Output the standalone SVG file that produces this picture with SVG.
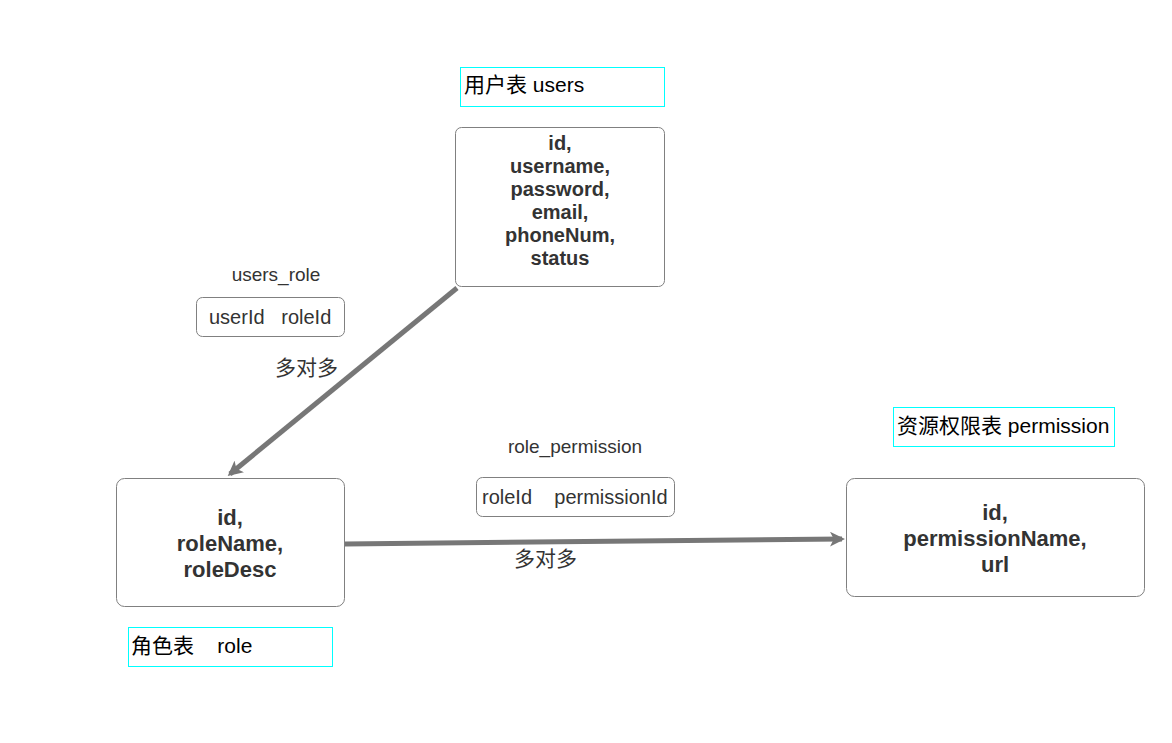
<svg xmlns="http://www.w3.org/2000/svg" width="1172" height="743" viewBox="0 0 1172 743">
  <style>
    .node { fill: #ffffff; stroke: #808080; stroke-width: 1; }
    .title { fill: #ffffff; stroke: #00ffff; stroke-width: 1; }
    .ttl { font-family: "Liberation Sans", "Noto Sans CJK SC", sans-serif; font-size: 21px; fill: #000000; }
    .fld { font-family: "Liberation Sans", "Noto Sans CJK SC", sans-serif; font-size: 20px; font-weight: bold; fill: #333333; text-anchor: middle; }
    .fld2 { font-family: "Liberation Sans", "Noto Sans CJK SC", sans-serif; font-size: 22px; font-weight: bold; fill: #333333; text-anchor: middle; }
    .lbl { font-family: "Liberation Sans", "Noto Sans CJK SC", sans-serif; font-size: 19px; fill: #333333; text-anchor: middle; }
    .rel { font-family: "Liberation Sans", "Noto Sans CJK SC", sans-serif; font-size: 20px; fill: #333333; }
    .many { font-family: "Liberation Sans", "Noto Sans CJK SC", sans-serif; font-size: 21px; fill: #333333; }
    .edge { stroke: #777777; stroke-width: 5; fill: none; }
  </style>
  <defs>
    <marker id="arrow" viewBox="0 0 10 10" refX="8" refY="5" markerWidth="3" markerHeight="3" orient="auto" markerUnits="strokeWidth">
      <path d="M0,0 L10,5 L0,10 L2.5,5 Z" fill="#777777"/>
    </marker>
  </defs>
  <rect width="1172" height="743" fill="#ffffff"/>

  <!-- connectors -->
  <g id="connectors">
    <line class="edge" x1="457" y1="288" x2="230" y2="474" marker-end="url(#arrow)"/>
    <line class="edge" x1="345" y1="544" x2="842" y2="539" marker-end="url(#arrow)"/>
  </g>

  <!-- users table -->
  <g id="users-title">
    <rect class="title" x="460.5" y="67.5" width="204" height="39"/>
    <text class="ttl" x="464" y="92">用户表 users</text>
  </g>
  <g id="users">
    <rect class="node" x="455.5" y="127.5" width="209" height="159" rx="6"/>
    <text class="fld" x="560" y="150">id,</text>
    <text class="fld" x="560" y="173">username,</text>
    <text class="fld" x="560" y="196">password,</text>
    <text class="fld" x="560" y="219">email,</text>
    <text class="fld" x="560" y="242">phoneNum,</text>
    <text class="fld" x="560" y="265">status</text>
  </g>

  <!-- users_role link table -->
  <g id="users-role">
    <text class="lbl" x="276" y="281">users_role</text>
    <rect class="node" x="196.5" y="297.5" width="148" height="39" rx="6"/>
    <text class="rel" x="209" y="324" xml:space="preserve">userId   roleId</text>
  </g>
  <g id="rel-users-role">
    <text class="many" x="275" y="375">多对多</text>
  </g>

  <!-- role table -->
  <g id="role">
    <rect class="node" x="116.5" y="478.5" width="228" height="128" rx="8"/>
    <text class="fld2" x="230" y="525">id,</text>
    <text class="fld2" x="230" y="551">roleName,</text>
    <text class="fld2" x="230" y="577">roleDesc</text>
  </g>
  <g id="role-title">
    <rect class="title" x="128.5" y="627.5" width="204" height="39"/>
    <text class="ttl" x="131" y="653" xml:space="preserve">角色表    role</text>
  </g>

  <!-- role_permission link table -->
  <g id="role-permission">
    <text class="lbl" x="575" y="453">role_permission</text>
    <rect class="node" x="476.5" y="477.5" width="198" height="39" rx="6"/>
    <text class="rel" x="482" y="504" xml:space="preserve">roleId    permissionId</text>
  </g>
  <g id="rel-role-permission">
    <text class="many" x="514" y="566">多对多</text>
  </g>

  <!-- permission table -->
  <g id="permission-title">
    <rect class="title" x="893.5" y="407.5" width="221" height="39"/>
    <text class="ttl" x="897" y="433">资源权限表 permission</text>
  </g>
  <g id="permission">
    <rect class="node" x="846.5" y="478.5" width="298" height="118" rx="8"/>
    <text class="fld2" x="995" y="520">id,</text>
    <text class="fld2" x="995" y="546">permissionName,</text>
    <text class="fld2" x="995" y="572">url</text>
  </g>
</svg>
